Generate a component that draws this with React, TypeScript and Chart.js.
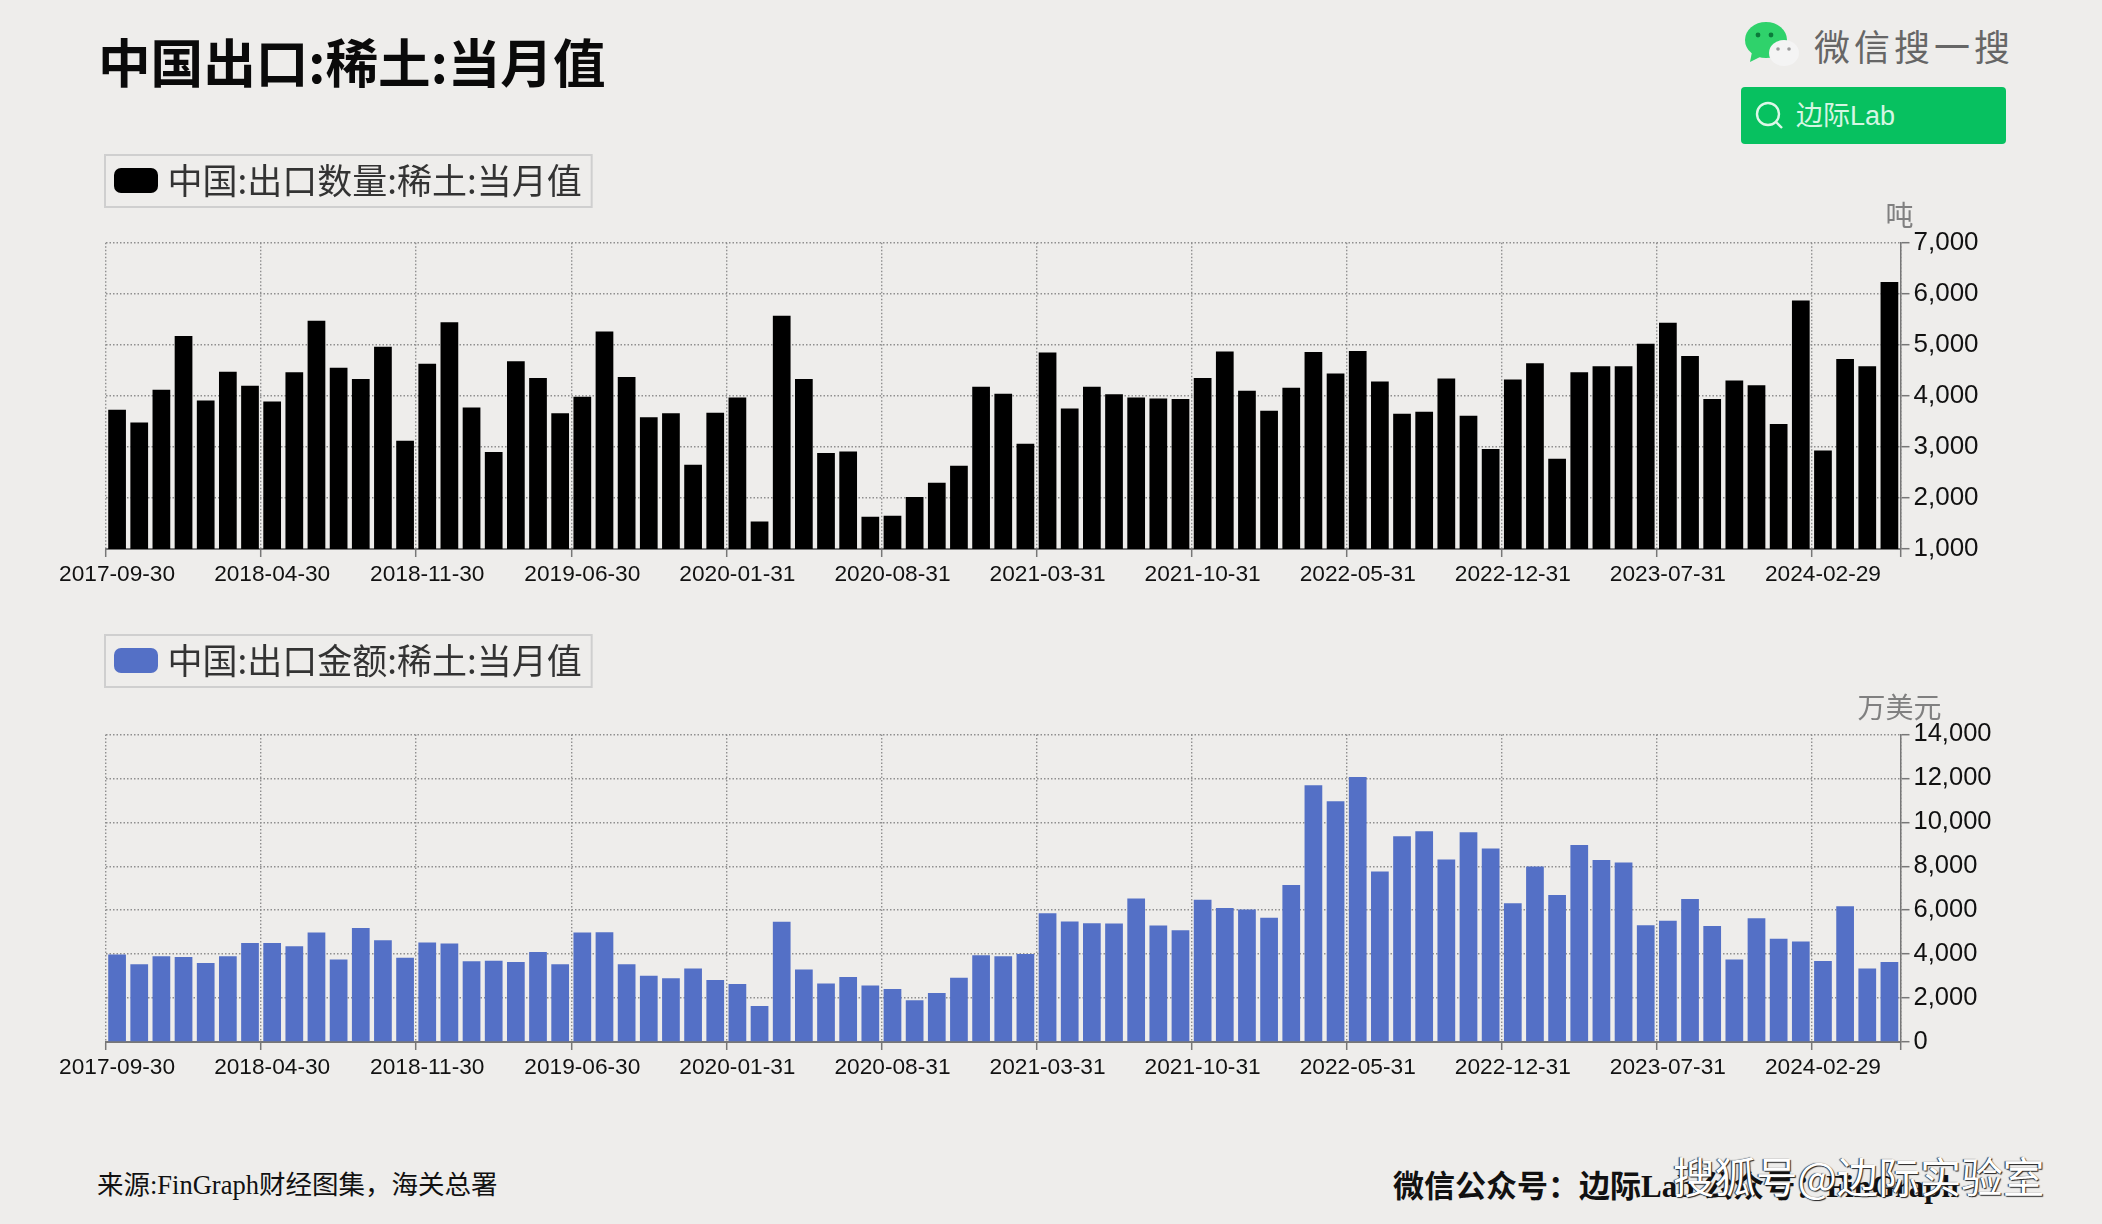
import React, { useEffect, useRef } from "react";
import { Chart, registerables } from "chart.js";

Chart.register(...registerables);

const MONTH_ENDS = ["31", "28", "31", "30", "31", "30", "31", "31", "30", "31", "30", "31"];
const categories: string[] = [];
for (let i = 0; i < 81; i++) {
  const y = 2017 + Math.floor((8 + i) / 12);
  const m = (8 + i) % 12;
  const d = m === 1 && y % 4 === 0 ? "29" : MONTH_ENDS[m];
  categories.push(`${y}-${String(m + 1).padStart(2, "0")}-${d}`);
}

const volumeTons = [
  3730, 3480, 4120, 5170, 3910, 4470, 4200, 3890, 4460, 5470, 4550, 4330, 4960, 3120, 4630, 5440, 3770,
  2900, 4680, 4350, 3660, 3980, 5260, 4370, 3580, 3660, 2650, 3670, 3970, 1540, 5570, 4330, 2880, 2910,
  1630, 1650, 2020, 2300, 2630, 4180, 4040, 3060, 4850, 3750, 4180, 4030, 3970, 3950, 3940, 4350, 4870,
  4100, 3710, 4160, 4860, 4440, 4880, 4280, 3650, 3690, 4340, 3610, 2960, 4320, 4640, 2770, 4460, 4580,
  4580, 5020, 5430, 4780, 3940, 4300, 4210, 3450, 5870, 2930, 4720, 4580, 6230,
];

const valueUsd = [
  3980, 3540, 3900, 3870, 3600, 3900, 4510, 4510, 4360, 4980, 3750, 5190, 4630, 3840, 4530, 4480, 3680,
  3700, 3640, 4100, 3540, 4980, 5000, 3540, 3020, 2900, 3340, 2820, 2640, 1640, 5470, 3300, 2660, 2960,
  2570, 2410, 1900, 2230, 2920, 3950, 3900, 4010, 5860, 5480, 5410, 5390, 6530, 5300, 5090, 6480, 6100,
  6030, 5650, 7150, 11680, 10960, 12060, 7760, 9370, 9590, 8310, 9550, 8810, 6320, 7990, 6690, 8970, 8280,
  8170, 5310, 5520, 6510, 5280, 3750, 5630, 4700, 4570, 3690, 6180, 3340, 3640,
];

const TICK_EVERY = 7;
const BG = "#EEEDEB";
const GRID = "#8f8f8f";
const AXIS = "#777777";
const CJK = '"Noto Sans CJK SC", "Liberation Sans", sans-serif';
const LATIN = '"Liberation Sans", Arial, sans-serif';
const SERIF = '"Liberation Serif", "Noto Sans CJK SC", serif';

function makeSwatch(color: string) {
  const c = document.createElement("canvas");
  c.width = 51;
  c.height = 25;
  const g = c.getContext("2d")!;
  g.fillStyle = color;
  g.beginPath();
  g.roundRect(7, 0, 44, 25, 7);
  g.fill();
  return c;
}

const panelDecor = {
  id: "panelDecor",
  afterLayout(chart: any) {
    const t = chart.titleBlock;
    if (t) {
      t.left = chart.chartArea.right - 101;
      t.right = chart.chartArea.right + 99;
    }
  },
  afterDraw(chart: any) {
    const hit = chart.legend?.legendHitBoxes?.[0];
    if (!hit) return;
    const g = chart.ctx;
    g.save();
    g.strokeStyle = "#cfcfcf";
    g.lineWidth = 2;
    g.strokeRect(chart.legend.left - 1, chart.legend.top + 1, hit.left + hit.width + 10 - chart.legend.left + 1, chart.legend.height - 2);
    g.restore();
  },
};

type PanelProps = {
  top: number;
  height: number;
  label: string;
  unit: string;
  color: string;
  values: number[];
  min: number;
  max: number;
  step: number;
  unitPad: { top: number; bottom: number };
  tickSize: number;
};

function Panel(p: PanelProps) {
  const ref = useRef<HTMLCanvasElement>(null);
  useEffect(() => {
    const sparse = (ctx: any, color: string) =>
      ctx.index === undefined || ctx.index % TICK_EVERY === 0 ? color : "rgba(0,0,0,0)";
    const chart = new Chart(ref.current!, {
      type: "bar",
      data: {
        labels: categories,
        datasets: [{ label: p.label, data: p.values, backgroundColor: p.color, barPercentage: 0.8, categoryPercentage: 1 }],
      },
      plugins: [panelDecor],
      options: {
        animation: false,
        responsive: false,
        layout: { padding: { left: 106, right: 51.5, top: 0, bottom: 0 } },
        plugins: {
          tooltip: { enabled: false },
          legend: {
            display: true,
            position: "top",
            align: "start",
            onClick: undefined,
            labels: {
              usePointStyle: true,
              pointStyle: makeSwatch(p.color),
              pointStyleWidth: 35,
              padding: 9,
              color: "#333333",
              font: { family: CJK, size: 35, lineHeight: 1 },
            },
          },
          title: {
            display: true,
            text: p.unit,
            position: "top",
            align: "center",
            weight: 500,
            color: "#808080",
            font: { family: CJK, size: 28, weight: "normal", lineHeight: 1 },
            padding: p.unitPad,
          },
        },
        scales: {
          x: {
            type: "category",
            offset: true,
            afterFit: (s: any) => { s.height = 60; },
            grid: {
              offset: true,
              color: (c: any) => sparse(c, GRID),
              tickColor: (c: any) => sparse(c, AXIS),
              lineWidth: 1.4,
              tickLength: 8,
              tickWidth: 1.5,
            },
            border: { display: true, color: AXIS, width: 2, dash: [1.5, 2] },
            ticks: {
              autoSkip: false,
              maxRotation: 0,
              minRotation: 0,
              padding: 4,
              color: "#111111",
              font: { family: LATIN, size: 22.7 },
              callback: (_v: any, i: number) => (i % TICK_EVERY === 0 ? categories[i] : ""),
            },
          },
          y: {
            position: "right",
            min: p.min,
            max: p.max,
            afterFit: (s: any) => { s.width = 150; },
            grid: { color: GRID, tickColor: AXIS, lineWidth: 1.4, tickLength: 9, tickWidth: 1.5 },
            border: { display: true, color: AXIS, width: 1.5, dash: [1.5, 2] },
            ticks: {
              stepSize: p.step,
              padding: 4,
              color: "#111111",
              font: { family: LATIN, size: p.tickSize },
              callback: (v: any) => Number(v).toLocaleString("en-US"),
            },
          },
        },
      },
    } as any);
    return () => chart.destroy();
  }, []);
  return (
    <canvas
      ref={ref}
      width={2102}
      height={p.height}
      style={{ position: "absolute", left: 0, top: p.top, width: 2102, height: p.height }}
    />
  );
}

const abs = (s: React.CSSProperties): React.CSSProperties => ({ position: "absolute", whiteSpace: "nowrap", ...s });

export default function App() {
  useEffect(() => {
    document.body.style.margin = "0";
    document.body.style.background = BG;
  }, []);
  return (
    <div style={{ position: "absolute", left: 0, top: 0, width: 2102, height: 1224, background: BG, overflow: "hidden" }}>
      <div style={abs({ left: 98, top: 25, fontFamily: CJK, fontWeight: 700, fontSize: 52.6, lineHeight: "70px", color: "#0a0a0a" })}>
        中国出口:稀土:当月值
      </div>

      <Panel top={154} height={455} label="中国:出口数量:稀土:当月值" unit="吨" color="#000000" values={volumeTons}
        min={1000} max={7000} step={1000} unitPad={{ top: -7, bottom: 13.7 }} tickSize={26} />
      <Panel top={634} height={468} label="中国:出口金额:稀土:当月值" unit="万美元" color="#5470C6" values={valueUsd}
        min={0} max={14000} step={2000} unitPad={{ top: 5, bottom: 13.4 }} tickSize={25.5} />

      <svg style={{ position: "absolute", left: 1742, top: 20, width: 62, height: 52 }} viewBox="0 0 62 52">
        <ellipse cx="24" cy="20" rx="21" ry="18" fill="#2FD26B" />
        <path d="M10 32 L8 42 L20 36 Z" fill="#2FD26B" />
        <circle cx="16" cy="15" r="2.4" fill="#0b7a3a" />
        <circle cx="29" cy="15" r="2.4" fill="#0b7a3a" />
        <ellipse cx="42" cy="33" rx="15" ry="13" fill="#F4F4F4" />
        <circle cx="36" cy="29" r="1.8" fill="#999" />
        <circle cx="47" cy="29" r="1.8" fill="#999" />
      </svg>
      <div style={abs({ left: 1814, top: 22, fontFamily: CJK, fontSize: 36, letterSpacing: 4, lineHeight: "46px", color: "#666666" })}>微信搜一搜</div>
      <div style={{ position: "absolute", left: 1741, top: 87, width: 265, height: 57, background: "#07C160", borderRadius: 4 }} />
      <svg style={{ position: "absolute", left: 1754, top: 100, width: 30, height: 30 }} viewBox="0 0 30 30">
        <circle cx="14" cy="14" r="11" fill="none" stroke="#DDF7E8" strokeWidth="2.4" />
        <path d="M22 22 L28 28" stroke="#DDF7E8" strokeWidth="2.4" />
      </svg>
      <div style={abs({ left: 1796, top: 97, fontFamily: '"Liberation Sans", "Noto Sans CJK SC", sans-serif', fontSize: 27, lineHeight: "38px", color: "#D5F6E3" })}>边际Lab</div>

      <div style={abs({ left: 97, top: 1166, fontFamily: SERIF, fontSize: 26.5, lineHeight: "38px", color: "#111" })}>
        {"来源:FinGraph财经图集\uFF0C海关总署"}
      </div>
      <div style={abs({ left: 1393, top: 1166, fontFamily: SERIF, fontWeight: 700, fontSize: 31, lineHeight: "42px", color: "#111" })}>
        {"微信公众号\uFF1A边际Lab 公众号\uFF1AFinGraph"}
      </div>
      <div style={abs({ left: 1673, top: 1148, fontFamily: CJK, fontSize: 41.5, lineHeight: "54px", color: "#ffffff", textShadow: "1px 1px 1px #222, -1px 0 1px #222" })}>
        搜狐号@边际实验室
      </div>
    </div>
  );
}
